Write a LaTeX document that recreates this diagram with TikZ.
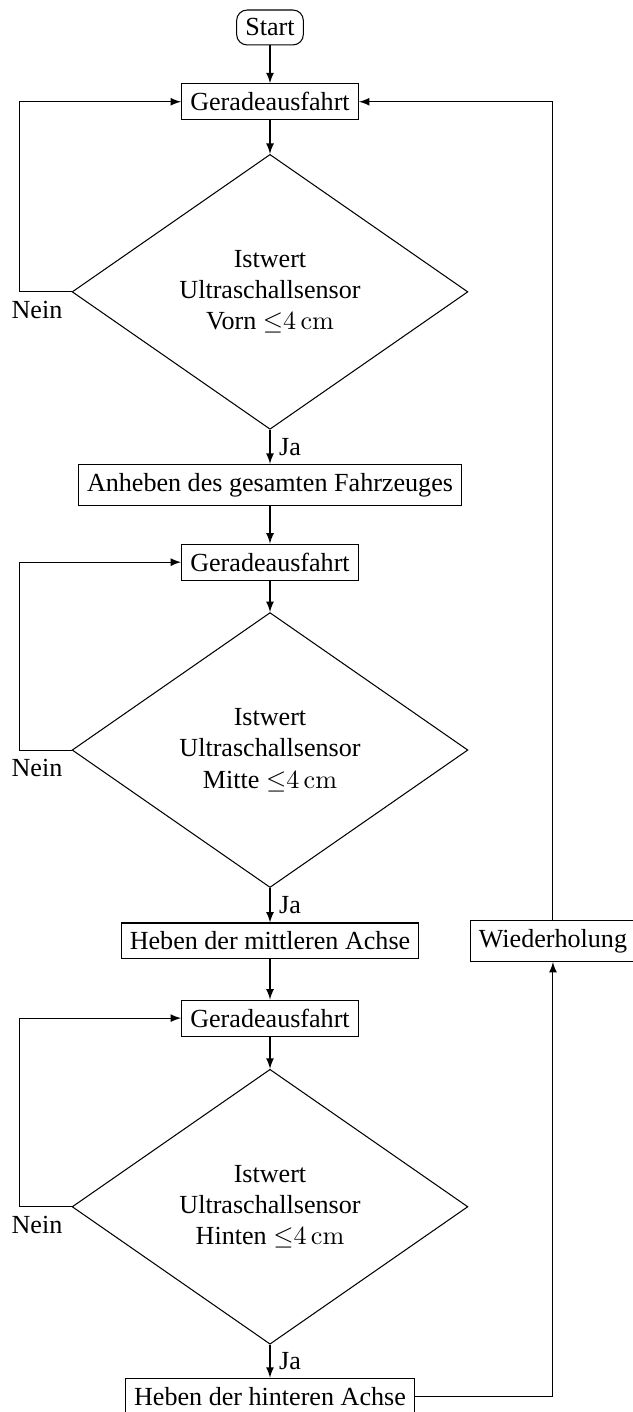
\documentclass[tikz,border=0pt]{standalone}
\usepackage[no-math]{fontspec}
\setmainfont{Liberation Serif}
\usepackage{amsmath}
\usepackage{tikz}
\usetikzlibrary{shapes.geometric}

\tikzset{
  box/.style={rectangle,draw},
  decision/.style={diamond,draw,align=center,minimum width=5.33cm,minimum height=3.55cm,inner sep=1pt},
  pfeil/.style={-latex}
}

\begin{document}
\begin{tikzpicture}
			\useasboundingbox (-3.636,0.370) rectangle (4.875,-18.644);
			\node[box,rounded corners](start) at (0,0) {Start};
			\node[box](g1) at (0,-1.0) {Geradeausfahrt};
			\node[decision](d1) at (0,-3.56)
			{Istwert\\Ultraschallsensor\\Vorn ${\leq}4\,\mathrm{cm}$};
			\node[box](a1) at (0,-6.16) {Anheben\ des\ gesamten\ Fahrzeuges};
			\node[box](g2) at (0,-7.20) {Geradeausfahrt};
			\node[decision](d2) at (0,-9.73)
			{Istwert\\Ultraschallsensor\\Mitte ${\leq}4\,\mathrm{cm}$};
			\node[box](a2) at (0,-12.30) {Heben der mittleren Achse};
			\node[box](w) at (3.81,-12.30) {Wiederholung};
			\node[box](g3) at (0,-13.34) {Geradeausfahrt};
			\node[decision](d3) at (0,-15.88)
			{Istwert\\Ultraschallsensor\\Hinten ${\leq}4\,\mathrm{cm}$};
			\node[box](a3) at (0,-18.43) {Heben der hinteren Achse};
			\draw[pfeil] (start)--(g1);
			\draw[pfeil] (g1)--(d1);
			\draw[pfeil] (d1)-- node[right](ja1){Ja} (a1);
			\draw[pfeil] (d1.west) node[below left](nein1){Nein} -- ++(-0.7,0) |- (g1.west);
			\draw[pfeil] (a1)--(g2);
			\draw[pfeil] (g2)--(d2);
			\draw[pfeil] (d2)-- node[right](ja2){Ja} (a2);
			\draw[pfeil] (d2.west) node[below left](nein2){Nein} -- ++(-0.7,0) |- (g2.west);
			\draw[pfeil] (a2)--(g3);
			\draw[pfeil] (g3)--(d3);
			\draw[pfeil] (d3)-- node[right](ja3){Ja} (a3);
			\draw[pfeil] (d3.west) node[below left](nein3){Nein} -- ++(-0.7,0) |- (g3.west);
			\draw[pfeil] (a3.east) -| (w.south);
			\draw[pfeil] (w.north) |- (g1.east);
		\end{tikzpicture}
\end{document}
